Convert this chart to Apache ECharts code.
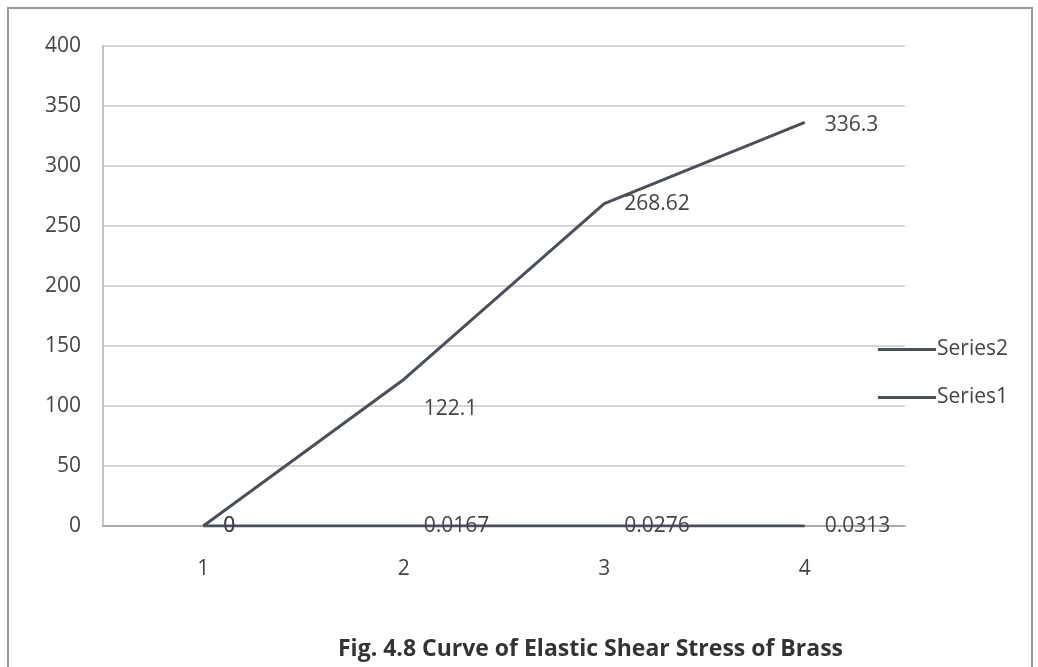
<!DOCTYPE html>
<html><head><meta charset="utf-8">
<script src="https://cdn.jsdelivr.net/npm/echarts@6/dist/echarts.min.js"></script>
<style>html,body{margin:0;padding:0;background:#fff}#c{width:1038px;height:667px}</style>
</head><body><div id="c"></div>
<script>
const categories = ['1','2','3','4'];
const series1 = [0, 0.0167, 0.0276, 0.0313];
const series2 = [0, 122.1, 268.62, 336.3];
const seriesNames = ['Series1','Series2'];
const titleText = 'Fig. 4.8 Curve of Elastic Shear Stress of Brass';

const FONT = '"Open Sans", "Liberation Sans", sans-serif';
const lineColor = '#4b4f5c';
const txt = '#444';
const chart = echarts.init(document.getElementById('c'), null, {renderer:'canvas'});
const lbl = {show:true, position:'right', distance:20, fontFamily:FONT, fontSize:21, color:txt};
chart.setOption({
  animation:false,
  backgroundColor:'#fff',
  graphic:[{type:'rect', shape:{x:8,y:8,width:1024,height:700}, style:{fill:'none', stroke:'#9a9a9a', lineWidth:2}}],
  title:{text:titleText, left:333, top:633, textStyle:{fontFamily:FONT, fontSize:23, fontWeight:'bold', color:'#333'}},
  grid:{left:103, right:133, top:46, bottom:141},
  legend:{orient:'vertical', left:873, top:334, itemGap:27, itemWidth:58, itemHeight:3, icon:'rect',
    data:[seriesNames[1], seriesNames[0]],
    textStyle:{fontFamily:FONT, fontSize:21, color:txt, padding:[0,0,0,-4]}},
  xAxis:{type:'category', data:categories, boundaryGap:true,
    axisLine:{show:true, lineStyle:{color:'#9a9a9a', width:1.5}}, axisTick:{show:false},
    axisLabel:{fontFamily:FONT, fontSize:21, color:txt, margin:33}},
  yAxis:{type:'value', min:0, max:400, interval:50,
    axisLine:{show:true, lineStyle:{color:'#b0b0b0', width:1.5}}, axisTick:{show:false},
    splitLine:{lineStyle:{color:'#c8c8c8', width:1.5}},
    axisLabel:{fontFamily:FONT, fontSize:21, color:txt, margin:22}},
  series:[
    {name:seriesNames[0], type:'line', data:series1, symbol:'circle', symbolSize:0, showSymbol:true,
      lineStyle:{color:lineColor, width:3}, itemStyle:{color:lineColor}, label:lbl, z:3},
    {name:seriesNames[1], type:'line', symbol:'circle', symbolSize:0, showSymbol:true,
      lineStyle:{color:lineColor, width:3}, itemStyle:{color:lineColor},
      data:series2.map((v,i)=> i===1 ? {value:v, label:{offset:[0,30]}} : (i===3 ? {value:v, label:{offset:[0,3]}} : v)), label:lbl, z:4}
  ]
});
</script></body></html>
